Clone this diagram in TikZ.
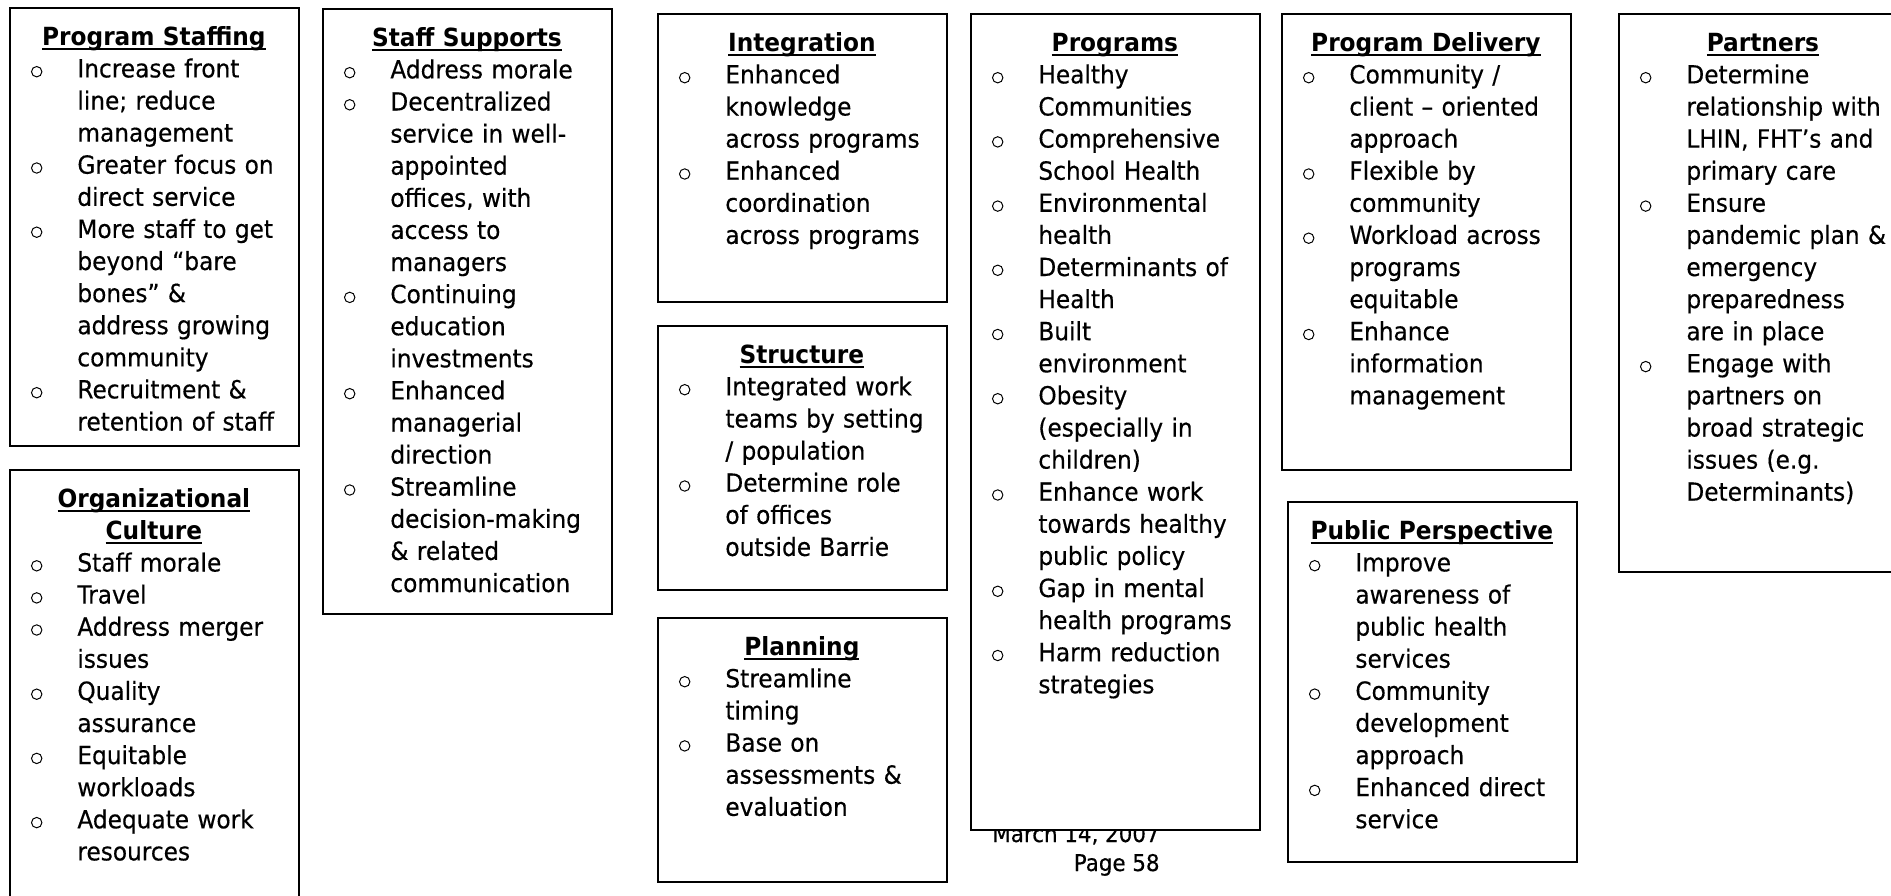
\documentclass[tikz,border=0pt]{standalone}
\usepackage{fontspec}
\setmainfont{DejaVu Sans}[FakeStretch=0.93, UprightFeatures={FakeBold=0.4}]

% box width (289 px at 0.5pt per px)
\newlength\bxw
\setlength\bxw{144.5pt}

% underlined heading text
\newcommand\undl[1]{\setbox0=\hbox{#1}\rlap{\rule[-2.3pt]{\wd0}{0.8pt}}\box0}
% first heading line, set a little lower below the box top
\newcommand\firsthd[1]{\par\vskip 2.9pt\noindent\makebox[\bxw][c]{\bfseries\undl{#1}}\par}
% further heading line
\newcommand\hd[1]{\par\noindent\makebox[\bxw][c]{\bfseries\undl{#1}}\par}
% small open-circle bullet sitting on the baseline
\newcommand\bul{\tikz[baseline=0pt]\draw[line width=0.5pt] (2.85pt,2.85pt) circle[radius=2.6pt];}
% bulleted item with hanging indent
\newcommand\itm[1]{\par\hangindent=34pt\hangafter=1\noindent\hspace*{10.8pt}\makebox[23.2pt][l]{\bul}#1\par}
% paragraph set-up for the box texts
\newcommand\bxsetup{\parskip=0pt\parindent=0pt\lineskiplimit=-40pt\lineskip=0pt\relax}

\tikzset{
  box/.style={draw=black, line width=1pt, fill=white, inner sep=0pt,
              minimum width=\bxw, anchor=north west},
  txt/.style={inner sep=0pt, text width=170pt, anchor=north west,
              font=\fontsize{12.5pt}{16.05pt}\selectfont},
  foot/.style={inner sep=0pt, anchor=base east,
               font=\fontsize{11.5pt}{14pt}\selectfont}
}

\begin{document}
\begin{tikzpicture}[x=0.5pt,y=-0.5pt]
\path[use as bounding box, fill=white] (0,0) rectangle (1891,895);

% page footer (partly hidden behind the Programs box)
\node[foot] (date) at (1160,842) {March 14, 2007};
\node[foot] (page) at (1160,871) {Page 58};

% frames
\node[box, minimum height=219pt]   (ps) at (9,7)     {};
\node[box, minimum height=220.5pt] (oc) at (9,469)   {};
\node[box, minimum height=302.5pt] (ss) at (322,8)   {};
\node[box, minimum height=144pt]   (in) at (657,13)  {};
\node[box, minimum height=132pt]   (st) at (657,325) {};
\node[box, minimum height=132pt]   (pl) at (657,617) {};
\node[box, minimum height=408pt]   (pr) at (970,13)  {};
\node[box, minimum height=228pt]   (pd) at (1281,13) {};
\node[box, minimum height=279pt]   (pa) at (1618,13) {};
\node[box, minimum height=180pt]   (pp) at (1287,501) {};

% contents
\node[txt] (pst) at (ps.north west) {\bxsetup
  \firsthd{Program Staffing}
  \itm{Increase front\newline line; reduce\newline management}
  \itm{Greater focus on\newline direct service}
  \itm{More staff to get\newline beyond “bare\newline bones” \&\newline address growing\newline community}
  \itm{Recruitment \&\newline retention of staff}};

\node[txt] (oct) at (oc.north west) {\bxsetup
  \firsthd{Organizational}
  \hd{Culture}
  \itm{Staff morale}
  \itm{Travel}
  \itm{Address merger\newline issues}
  \itm{Quality\newline assurance}
  \itm{Equitable\newline workloads}
  \itm{Adequate work\newline resources}};

\node[txt] (sst) at (ss.north west) {\bxsetup
  \firsthd{Staff Supports}
  \itm{Address morale}
  \itm{Decentralized\newline service in well-\newline appointed\newline offices, with\newline access to\newline managers}
  \itm{Continuing\newline education\newline investments}
  \itm{Enhanced\newline managerial\newline direction}
  \itm{Streamline\newline decision-making\newline \& related\newline communication}};

\node[txt] (int) at (in.north west) {\bxsetup
  \firsthd{Integration}
  \itm{Enhanced\newline knowledge\newline across programs}
  \itm{Enhanced\newline coordination\newline across programs}};

\node[txt] (stt) at (st.north west) {\bxsetup
  \firsthd{Structure}
  \itm{Integrated work\newline teams by setting\newline / population}
  \itm{Determine role\newline of offices\newline outside Barrie}};

\node[txt] (plt) at (pl.north west) {\bxsetup
  \firsthd{Planning}
  \itm{Streamline\newline timing}
  \itm{Base on\newline assessments \&\newline evaluation}};

\node[txt] (prt) at (pr.north west) {\bxsetup
  \firsthd{Programs}
  \itm{Healthy\newline Communities}
  \itm{Comprehensive\newline School Health}
  \itm{Environmental\newline health}
  \itm{Determinants of\newline Health}
  \itm{Built\newline environment}
  \itm{Obesity\newline (especially in\newline children)}
  \itm{Enhance work\newline towards healthy\newline public policy}
  \itm{Gap in mental\newline health programs}
  \itm{Harm reduction\newline strategies}};

\node[txt] (pdt) at (pd.north west) {\bxsetup
  \firsthd{Program Delivery}
  \itm{Community /\newline client – oriented\newline approach}
  \itm{Flexible by\newline community}
  \itm{Workload across\newline programs\newline equitable}
  \itm{Enhance\newline information\newline management}};

\node[txt] (pat) at (pa.north west) {\bxsetup
  \firsthd{Partners}
  \itm{Determine\newline relationship with\newline LHIN, FHT’s and\newline primary care}
  \itm{Ensure\newline pandemic plan \&\newline emergency\newline preparedness\newline are in place}
  \itm{Engage with\newline partners on\newline broad strategic\newline issues (e.g.\newline Determinants)}};

\node[txt] (ppt) at (pp.north west) {\bxsetup
  \firsthd{Public Perspective}
  \itm{Improve\newline awareness of\newline public health\newline services}
  \itm{Community\newline development\newline approach}
  \itm{Enhanced direct\newline service}};
\end{tikzpicture}
\end{document}
